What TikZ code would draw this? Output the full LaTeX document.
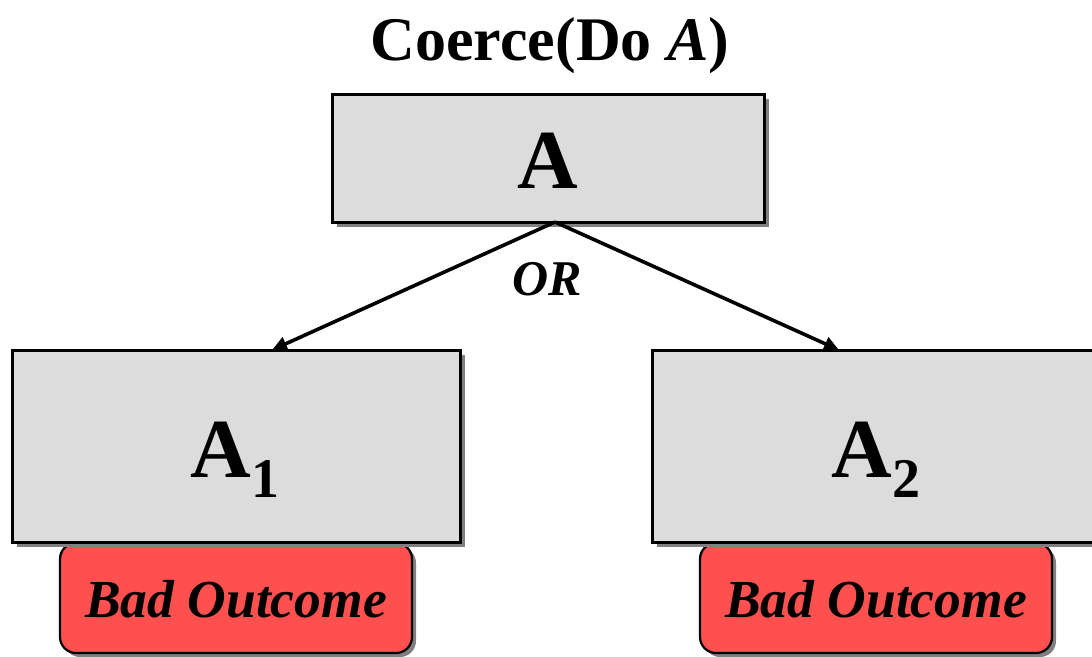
\documentclass[tikz,border=0pt]{standalone}
\usepackage{fontspec}
\setmainfont{Liberation Serif}
\usetikzlibrary{arrows.meta,shadows}
\definecolor{boxgray}{HTML}{DCDCDC}
\definecolor{shadowgray}{HTML}{808080}
\definecolor{badred}{HTML}{FF5050}
\tikzset{
  actbox/.style={draw=black, line width=3pt, fill=boxgray, inner sep=0pt,
    drop shadow={shadow xshift=5pt, shadow yshift=-5pt, opacity=1, fill=shadowgray}},
  badbox/.style={draw=black, line width=2.2pt, fill=badred, rounded corners=16pt, inner sep=0pt,
    minimum width=352pt, minimum height=110pt,
    drop shadow={shadow xshift=4pt, shadow yshift=-4pt, opacity=1, fill=shadowgray}},
  biglabel/.style={anchor=base, inner sep=0pt, font=\fontsize{84}{84}\selectfont\bfseries},
  badlabel/.style={anchor=base, inner sep=0pt, font=\fontsize{53.5}{53.5}\selectfont\bfseries\itshape},
  branch/.style={line width=3.6pt, -{Triangle[length=15pt,width=14pt]}},
}
\begin{document}
\begin{tikzpicture}[x=1pt,y=-1pt]
  \useasboundingbox (0,0) rectangle (1092,656);

  % title
  \node[anchor=base, inner sep=0pt, font=\fontsize{62}{62}\selectfont\bfseries] (title)
    at (550,60) {Coerce(Do \textit{A})};

  % outcome tags sit behind the action boxes
  \node[badbox] (bad1) at (236,598) {};
  \node[badbox] (bad2) at (876,598) {};
  \node[badlabel] (badtext1) at (236,617) {Bad Outcome};
  \node[badlabel] (badtext2) at (876,617) {Bad Outcome};

  % action boxes
  \node[actbox, minimum width=432pt, minimum height=128pt] (A) at (548,158) {};
  \node[actbox, minimum width=448pt, minimum height=192pt] (A1) at (236,446) {};
  \node[actbox, minimum width=448pt, minimum height=192pt] (A2) at (876,446) {};

  \node[biglabel] (Atext) at (548,188) {A};
  \node[biglabel] (A1text) at (235,477)
    {A\raisebox{-20pt}{\fontsize{56}{56}\selectfont 1}};
  \node[biglabel] (A2text) at (876,477)
    {A\raisebox{-20pt}{\fontsize{56}{56}\selectfont 2}};

  % alternatives
  \coordinate (fork) at (555,222);
  \coordinate (tipL) at (272,350);
  \coordinate (tipR) at (839,350);
  \draw[branch] (fork) -- (tipL);
  \draw[branch] (fork) -- (tipR);
  \node[anchor=base, inner sep=0pt, font=\fontsize{50}{50}\selectfont\bfseries\itshape]
    (or) at (547,295) {OR};
\end{tikzpicture}
\end{document}
